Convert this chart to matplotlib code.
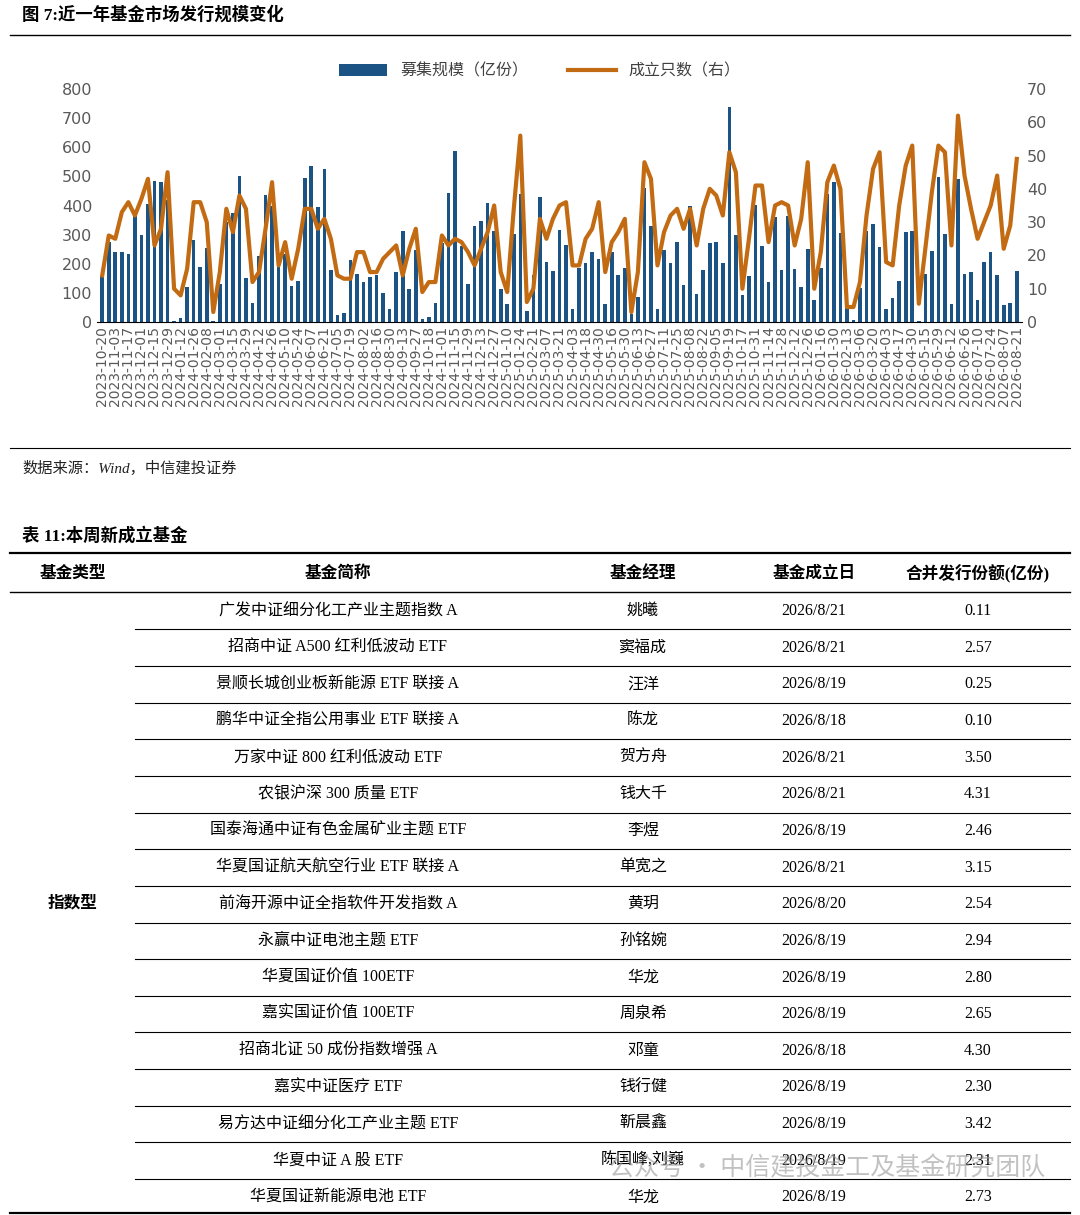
import matplotlib.pyplot as plt
from matplotlib.lines import Line2D

plt.rcParams['font.family'] = ['DejaVu Sans', 'Noto Sans CJK SC']

# x tick labels (every other data point)
tick_labels = ["2023-10-20", "2023-11-03", "2023-11-17", "2023-12-01", "2023-12-15", "2023-12-29",
    "2024-01-12", "2024-01-26", "2024-02-08", "2024-03-01", "2024-03-15", "2024-03-29", "2024-04-12",
    "2024-04-26", "2024-05-10", "2024-05-24", "2024-06-07", "2024-06-21", "2024-07-05", "2024-07-19",
    "2024-08-02", "2024-08-16", "2024-08-30", "2024-09-13", "2024-09-27", "2024-10-18", "2024-11-01",
    "2024-11-15", "2024-11-29", "2024-12-13", "2024-12-27",
    "2025-01-10", "2025-01-24", "2025-02-21", "2025-03-07", "2025-03-21", "2025-04-03", "2025-04-18",
    "2025-04-30", "2025-05-16", "2025-05-30", "2025-06-13", "2025-06-27", "2025-07-11", "2025-07-25",
    "2025-08-08", "2025-08-22", "2025-09-05", "2025-09-19", "2025-10-17", "2025-10-31", "2025-11-14",
    "2025-11-28", "2025-12-12", "2025-12-26",
    "2026-01-16", "2026-01-30", "2026-02-13", "2026-03-06", "2026-03-20", "2026-04-03", "2026-04-17",
    "2026-04-30", "2026-05-15", "2026-05-29", "2026-06-12", "2026-06-26", "2026-07-10", "2026-07-24",
    "2026-08-07", "2026-08-21"]

# 募集规模（亿份）
scale = [155, 275, 240, 240, 235, 385, 300, 405, 485, 480, 420, 5, 15, 120, 280, 190, 255, 5, 130,
         345, 375, 500, 150, 65, 225, 435, 400, 190, 235, 125, 140, 495, 535, 395,
         525, 180, 23, 30, 213, 165, 138, 155, 160, 100, 46, 170, 311, 115, 248, 12, 17, 66, 270, 444,
         588, 260, 130, 329, 346, 407, 313, 112, 63, 303, 438, 38, 161, 428, 206, 175, 317, 263,
         43, 184, 204, 242, 216, 61, 239, 161, 187, 29, 86, 461, 329, 46, 246, 204, 274, 127, 398, 96,
         179, 271, 274, 204, 738, 300, 92, 158, 403, 262, 138, 360, 179, 365, 181, 119,
         250, 77, 187, 440, 481, 304, 48, 8, 118, 314, 337, 256, 43, 83, 141, 308, 311, 2, 166, 245,
         498, 303, 62, 492, 166, 172, 74, 207, 242, 160, 58, 66, 175]

# 成立只数（右）
count = [14, 26, 25, 33, 36, 32, 37, 43, 23, 28, 45, 10, 8, 16, 36, 36, 30, 3, 15, 34, 27, 38, 34, 12,
         15, 28, 42, 17, 24, 13, 22, 34, 34, 28, 31, 25, 14, 13,
         13, 21, 21, 15, 15, 19, 21, 23, 14, 22, 28, 9, 12, 12, 26, 23, 25, 24, 21, 17, 22, 27, 35, 15,
         9, 34, 56, 6, 10, 31, 25, 31, 35, 36,
         17, 17, 25, 28, 36, 15, 24, 27, 31, 3, 15, 48, 43, 17, 27, 32, 34, 28, 34, 23, 34, 40, 38, 32,
         51, 45, 10, 25, 41, 41, 24, 35, 36, 35, 23, 31, 48,
         10, 21, 42, 47, 40, 4.5, 4.5, 12, 32, 46, 51, 18, 17, 35, 47, 53, 5.5, 22, 39, 53, 51, 23, 62,
         44, 34, 25, 30, 35, 44, 22, 29, 49]

# table
fund_names = ["广发中证细分化工产业主题指数 A", "招商中证 A500 红利低波动 ETF", "景顺长城创业板新能源 ETF 联接 A",
              "鹏华中证全指公用事业 ETF 联接 A", "万家中证 800 红利低波动 ETF", "农银沪深 300 质量 ETF",
              "国泰海通中证有色金属矿业主题 ETF", "华夏国证航天航空行业 ETF 联接 A", "前海开源中证全指软件开发指数 A",
              "永赢中证电池主题 ETF", "华夏国证价值 100ETF", "嘉实国证价值 100ETF", "招商北证 50 成份指数增强 A",
              "嘉实中证医疗 ETF", "易方达中证细分化工产业主题 ETF", "华夏中证 A 股 ETF", "华夏国证新能源电池 ETF"]
managers = ["姚曦", "窦福成", "汪洋", "陈龙", "贺方舟", "钱大千", "李煜", "单宽之", "黄玥", "孙铭婉", "华龙",
            "周泉希", "邓童", "钱行健", "靳晨鑫", "陈国峰,刘巍", "华龙"]
found_dates = ["2026/8/21", "2026/8/21", "2026/8/19", "2026/8/18", "2026/8/21", "2026/8/21", "2026/8/19",
               "2026/8/21", "2026/8/20", "2026/8/19", "2026/8/19", "2026/8/19", "2026/8/18", "2026/8/19",
               "2026/8/19", "2026/8/19", "2026/8/19"]
shares = ["0.11", "2.57", "0.25", "0.10", "3.50", "4.31", "2.46", "3.15", "2.54", "2.94", "2.80", "2.65",
          "4.30", "2.30", "3.42", "2.31", "2.73"]
headers = ["基金类型", "基金简称", "基金经理", "基金成立日", "合并发行份额(亿份)"]

W, H = 1080, 1215
fig = plt.figure(figsize=(W / 100, H / 100), dpi=100)


def fy(y):
    return 1 - y / H


def hline(x0, x1, y, lw=1.0, c="black"):
    fig.add_artist(Line2D([x0 / W, x1 / W], [fy(y), fy(y)], color=c, lw=lw))


serif = ['Liberation Serif', 'Noto Sans CJK SC']

# chart title
fig.text(22 / W, fy(15), "图 7:近一年基金市场发行规模变化", fontsize=12.5, fontweight="bold",
         family=serif, va="center")
hline(10, 1070, 35, lw=1.0)

ax = fig.add_axes([97 / W, fy(322), 925 / W, (322 - 89) / H])
x = list(range(len(scale)))
ax.bar(x, scale, width=0.55, color="#1b5384", label="募集规模（亿份）")
ax.set_ylim(0, 800)
ax.set_xlim(-0.8, len(scale) - 0.2)
ax.set_yticks(range(0, 801, 100))
ax.tick_params(axis="y", length=0, labelsize=11.5, labelcolor="#595959")
ax.set_xticks(x[::2])
ax.set_xticklabels(tick_labels, rotation=90, fontsize=10, color="#595959")
ax.tick_params(axis="x", length=0, pad=3)
for s in ["top", "right", "left"]:
    ax.spines[s].set_visible(False)
ax.spines["bottom"].set_color("black")

ax2 = ax.twinx()
ax2.plot(x, count, color="#c26b12", lw=3, label="成立只数（右）")
ax2.set_ylim(0, 70)
ax2.set_yticks(range(0, 71, 10))
ax2.tick_params(axis="y", length=0, labelsize=11.5, labelcolor="#595959")
for s in ax2.spines.values():
    s.set_visible(False)

h1, l1 = ax.get_legend_handles_labels()
h2, l2 = ax2.get_legend_handles_labels()
fig.legend(h1 + h2, l1 + l2, loc="center", bbox_to_anchor=(540 / W, fy(71)), ncol=2, frameon=False,
           handlelength=3, columnspacing=2.5, labelcolor="#404040",
           prop={"family": ['Noto Sans CJK SC'], "size": 11.5})

hline(10, 1070, 448, lw=0.8)
fig.text(22 / W, fy(468), "数据来源：Wind，中信建投证券", fontsize=11, style="italic", family=serif,
         va="center", color="#222222")

# table
fig.text(22 / W, fy(536), "表 11:本周新成立基金", fontsize=12.5, fontweight="bold", family=serif, va="center")
hline(10, 1070, 553, lw=1.6)
col_x = [73, 338, 643, 814, 978]
for cx, t in zip(col_x, headers):
    fig.text(cx / W, fy(574), t, fontsize=12, fontweight="bold", family=serif, ha="center", va="center")
hline(10, 1070, 592, lw=1.0)
row_h = 36.65
for i in range(len(fund_names)):
    yc = 611 + i * row_h
    row = [fund_names[i], managers[i], found_dates[i], shares[i]]
    for cx, t in zip(col_x[1:], row):
        fig.text(cx / W, fy(yc), t, fontsize=11.5, family=serif, ha="center", va="center")
    if i < len(fund_names) - 1:
        hline(135, 1070, yc + row_h / 2, lw=0.8)
fig.text(col_x[0] / W, fy(903), "指数型", fontsize=12, fontweight="bold", family=serif, ha="center", va="center")
hline(10, 1070, 1213, lw=1.6)

fig.text(1045 / W, fy(1168), "公众号 · 中信建投金工及基金研究团队", fontsize=18, color="#999999", alpha=0.6,
         ha="right", va="center", family=['Noto Sans CJK SC'])

fig.savefig("out.png", dpi=100)
